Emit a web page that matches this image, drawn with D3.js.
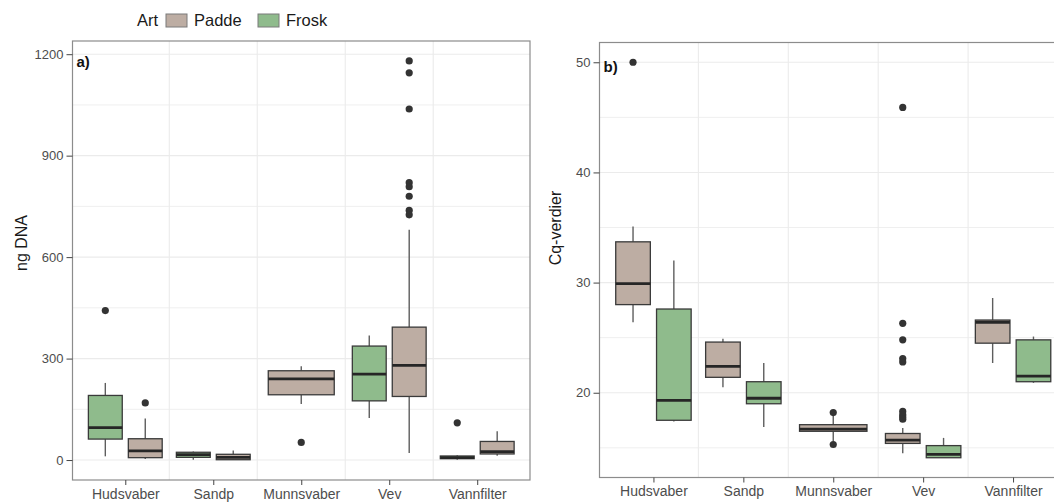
<!DOCTYPE html>
<meta charset="utf-8">
<style>
  body { margin: 0; background: #fff; }
  text { font-family: "Liberation Sans", Arial, sans-serif; }
</style>

<!-- Load d3.js -->
<script src="https://d3js.org/d3.v7.min.js"></script>

<div id="my_dataviz"></div>

<script>

// categories
var sites = ["Hudsvaber", "Sandp", "Munnsvaber", "Vev", "Vannfilter"];
var species = ["Padde", "Frosk"];

// panel a) ng DNA : [lower whisker, q1, median, q3, upper whisker], null = no samples
var dnaPadde = [[3, 7, 27, 63, 123], [0, 1, 8, 17, 28], [166, 193, 240, 264, 277], [21, 188, 280, 393, 681], [13, 18, 25, 55, 85]];
var dnaPaddeOut = [[169], [], [52], [1180, 1145, 1038, 820, 808, 780, 738, 725], []];
var dnaFrosk = [[11, 62, 96, 191, 228], [1, 8, 16, 23, 25], null, [124, 175, 254, 337, 368], [1, 4, 7, 12, 14]];
var dnaFroskOut = [[442], [], [], [], [110]];
var dnaTicks = [0, 300, 600, 900, 1200];

// panel b) Cq-verdier
var cqPadde = [[26.4, 28.0, 29.9, 33.7, 35.1], [20.5, 21.4, 22.4, 24.6, 24.9], [15.6, 16.5, 16.7, 17.1, 17.9], [14.5, 15.4, 15.7, 16.3, 16.8], [22.7, 24.5, 26.4, 26.6, 28.6]];
var cqPaddeOut = [[50.0], [], [18.2, 15.3], [45.9, 26.3, 24.8, 23.1, 22.8, 18.3, 18.0, 17.8, 17.6], []];
var cqFrosk = [[17.4, 17.5, 19.3, 27.6, 32.0], [16.9, 19.0, 19.5, 21.0, 22.7], null, [14.1, 14.1, 14.4, 15.2, 15.9], [20.9, 21.0, 21.5, 24.8, 25.1]];
var cqFroskOut = [[], [], [], [], []];
var cqTicks = [20, 30, 40, 50];

var colors = { Padde: "#bdada3", Frosk: "#8fbb8c" };

var svg = d3.select("#my_dataviz")
  .append("svg")
    .attr("width", 1054)
    .attr("height", 502);

// Legend
var legend = svg.append("g");
legend.append("text").attr("x", 137).attr("y", 26).attr("font-size", "16.5px").attr("fill", "#1a1a1a").text("Art");
var legendItems = [{ name: "Padde", x: 166 }, { name: "Frosk", x: 258 }];
legendItems.forEach(function(d) {
  legend.append("rect").attr("x", d.x).attr("y", 14).attr("width", 21).attr("height", 13)
    .attr("fill", colors[d.name]).attr("stroke", "#7a7a7a").attr("stroke-width", 1);
  legend.append("text").attr("x", d.x + 28).attr("y", 26).attr("font-size", "16.5px").attr("fill", "#1a1a1a").text(d.name);
});

function drawPanel(p) {
  var g = svg.append("g");

  var x = d3.scaleLinear().domain([0.4, 5.6]).range([p.left, p.right]);

  // y range from the data, expanded 5% like ggplot
  var vals = [];
  p.series.forEach(function(s) {
    s.stats.forEach(function(b) { if (b) vals = vals.concat(b); });
    s.out.forEach(function(o) { vals = vals.concat(o); });
  });
  var lo = d3.min(vals), hi = d3.max(vals), pad = (hi - lo) * 0.05;
  var y = d3.scaleLinear().domain([lo - pad, hi + pad]).range([p.bottom, p.top]);

  // grid
  var step = p.ticks[1] - p.ticks[0];
  var minor = p.ticks.map(function(t) { return t - step / 2; })
    .concat([p.ticks[p.ticks.length - 1] + step / 2])
    .filter(function(t) { return t > y.domain()[0] && t < y.domain()[1]; });
  g.selectAll(".minor").data(minor).enter().append("line")
    .attr("x1", p.left).attr("x2", p.right)
    .attr("y1", function(d) { return y(d); }).attr("y2", function(d) { return y(d); })
    .attr("stroke", "#efefef").attr("stroke-width", 1);
  g.selectAll(".major").data(p.ticks).enter().append("line")
    .attr("x1", p.left).attr("x2", p.right)
    .attr("y1", function(d) { return y(d); }).attr("y2", function(d) { return y(d); })
    .attr("stroke", "#ebebeb").attr("stroke-width", 1.1);
  g.selectAll(".vgrid").data([1.5, 2.5, 3.5, 4.5]).enter().append("line")
    .attr("x1", function(d) { return x(d); }).attr("x2", function(d) { return x(d); })
    .attr("y1", p.top).attr("y2", p.bottom)
    .attr("stroke", "#ebebeb").attr("stroke-width", 1.1);

  // boxes
  sites.forEach(function(site, i) {
    var present = p.series.filter(function(s) { return s.stats[i]; });
    present.forEach(function(s, k) {
      var b = s.stats[i];
      var c, w;
      if (present.length === 1) { c = i + 1; w = 0.75; }
      else { c = i + 1 + (k === 0 ? -0.227 : 0.227); w = 0.385; }
      var cx = x(c);
      var half = (x(c + w / 2) - x(c - w / 2)) / 2;

      g.append("line").attr("x1", cx).attr("x2", cx).attr("y1", y(b[0])).attr("y2", y(b[1]))
        .attr("stroke", "#5e5e5e").attr("stroke-width", 1.4);
      g.append("line").attr("x1", cx).attr("x2", cx).attr("y1", y(b[3])).attr("y2", y(b[4]))
        .attr("stroke", "#5e5e5e").attr("stroke-width", 1.4);
      g.append("rect")
        .attr("x", cx - half).attr("width", half * 2)
        .attr("y", y(b[3])).attr("height", Math.max(y(b[1]) - y(b[3]), 0.5))
        .attr("fill", colors[s.name]).attr("stroke", "#3a3a3a").attr("stroke-width", 1.3);
      g.append("line").attr("x1", cx - half).attr("x2", cx + half).attr("y1", y(b[2])).attr("y2", y(b[2]))
        .attr("stroke", "#262626").attr("stroke-width", 2.8);

      g.selectAll(null).data(s.out[i]).enter().append("circle")
        .attr("cx", cx).attr("cy", function(d) { return y(d); }).attr("r", 3.6)
        .attr("fill", "#333");
    });
  });

  // border
  g.append("rect").attr("x", p.left).attr("y", p.top)
    .attr("width", p.right - p.left).attr("height", p.bottom - p.top)
    .attr("fill", "none").attr("stroke", "#8c8c8c").attr("stroke-width", 1.2);

  // axes
  var yAxis = g.append("g").attr("transform", "translate(" + p.left + ",0)")
    .call(d3.axisLeft(y).tickValues(p.ticks).tickFormat(d3.format("d")).tickSize(6).tickPadding(3));
  var xAxis = g.append("g").attr("transform", "translate(0," + p.bottom + ")")
    .call(d3.axisBottom(x).tickValues([1, 2, 3, 4, 5]).tickFormat(function(d) { return sites[d - 1]; }).tickSize(5).tickPadding(4));
  [yAxis, xAxis].forEach(function(a) {
    a.select(".domain").remove();
    a.selectAll(".tick line").attr("stroke", "#444");
    a.selectAll(".tick text").attr("fill", "#4d4d4d")
      .attr("font-family", "Liberation Sans, Arial, sans-serif");
  });
  yAxis.selectAll(".tick text").attr("font-size", "13px");
  xAxis.selectAll(".tick text").attr("font-size", "14px");

  // titles
  g.append("text")
    .attr("transform", "translate(" + p.titleX + "," + p.titleY + ") rotate(-90)")
    .attr("text-anchor", "middle").attr("font-size", "16px").attr("fill", "#1a1a1a")
    .text(p.title);
  g.append("text").attr("x", p.left + 4).attr("y", p.tagY)
    .attr("font-size", "15px").attr("font-weight", "bold").attr("fill", "#111")
    .text(p.tag);
}

drawPanel({
  left: 72.5, right: 530, top: 41, bottom: 480,
  series: [
    { name: "Frosk", stats: dnaFrosk, out: dnaFroskOut },
    { name: "Padde", stats: dnaPadde, out: dnaPaddeOut }
  ],
  ticks: dnaTicks, title: "ng DNA", titleX: 27, titleY: 243, tag: "a)", tagY: 67
});

drawPanel({
  left: 599.5, right: 1067, top: 42.5, bottom: 477.5,
  series: [
    { name: "Padde", stats: cqPadde, out: cqPaddeOut },
    { name: "Frosk", stats: cqFrosk, out: cqFroskOut }
  ],
  ticks: cqTicks, title: "Cq-verdier", titleX: 561, titleY: 228, tag: "b)", tagY: 72
});

</script>
